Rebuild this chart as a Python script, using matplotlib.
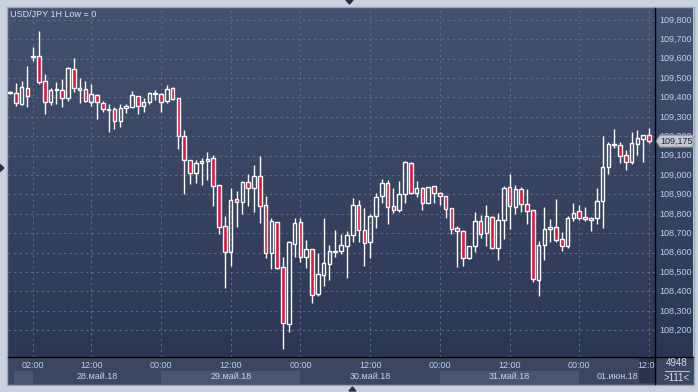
import matplotlib.pyplot as plt
import numpy as np
from matplotlib.patches import Rectangle, Polygon
from matplotlib.colors import LinearSegmentedColormap

plt.rcParams['font.family'] = ['Liberation Sans', 'DejaVu Sans']

# USD/JPY 1H свечи (111 баров)
opens = [109.425, 109.422, 109.366, 109.447, 109.608, 109.614, 109.484, 109.375, 109.437, 109.437,
         109.399, 109.545, 109.440, 109.442, 109.378, 109.411, 109.370, 109.334, 109.339, 109.277,
         109.344, 109.353, 109.406, 109.355, 109.378, 109.417, 109.418, 109.382, 109.447, 109.396,
         109.200, 109.076, 109.012, 109.061, 109.071, 109.087, 108.947, 108.738, 108.605, 108.875,
         108.863, 108.963, 108.932, 108.995, 108.844, 108.597, 108.757, 108.525, 108.231, 108.646,
         108.758, 108.579, 108.619, 108.389, 108.484, 108.540, 108.602, 108.607, 108.633, 108.690,
         108.844, 108.717, 108.654, 108.788, 108.891, 108.958, 108.839, 108.819, 108.904, 109.061,
         108.906, 108.932, 108.858, 108.942, 108.906, 108.891, 108.830, 108.726, 108.712, 108.571,
         108.633, 108.762, 108.700, 108.786, 108.626, 108.767, 108.937, 108.837, 108.927, 108.849,
         108.820, 108.461, 108.638, 108.724, 108.734, 108.669, 108.636, 108.777, 108.813, 108.782,
         108.772, 108.777, 108.865, 109.043, 109.154, 109.154, 109.102, 109.066, 109.162, 109.188,
         109.205]
highs = [109.432, 109.473, 109.485, 109.562, 109.659, 109.743, 109.521, 109.447, 109.481, 109.495,
         109.557, 109.605, 109.499, 109.485, 109.470, 109.418, 109.382, 109.365, 109.349, 109.365,
         109.365, 109.434, 109.408, 109.396, 109.427, 109.439, 109.422, 109.464, 109.456, 109.398,
         109.232, 109.078, 109.078, 109.087, 109.119, 109.102, 108.950, 108.791, 108.935, 108.920,
         108.971, 109.006, 109.052, 109.098, 108.892, 108.777, 108.760, 108.579, 108.662, 108.777,
         108.777, 108.665, 108.621, 108.597, 108.777, 108.640, 108.717, 108.695, 108.712, 108.880,
         108.872, 108.829, 108.799, 108.906, 108.978, 108.975, 108.935, 108.970, 109.073, 109.066,
         108.970, 108.940, 108.940, 108.944, 108.914, 108.893, 108.832, 108.738, 108.717, 108.635,
         108.811, 108.794, 108.846, 108.789, 108.806, 108.945, 109.006, 108.949, 108.937, 108.927,
         108.822, 108.660, 108.834, 108.774, 108.877, 108.707, 108.788, 108.855, 108.844, 108.837,
         108.782, 108.932, 109.202, 109.169, 109.238, 109.171, 109.129, 109.222, 109.232, 109.207,
         109.241]
lows = [109.418, 109.358, 109.361, 109.353, 109.590, 109.468, 109.313, 109.361, 109.365, 109.353,
        109.380, 109.427, 109.373, 109.375, 109.356, 109.291, 109.324, 109.224, 109.239, 109.249,
        109.322, 109.347, 109.313, 109.327, 109.365, 109.387, 109.327, 109.373, 109.387, 109.133,
        108.903, 108.956, 108.958, 108.951, 108.975, 108.842, 108.696, 108.420, 108.533, 108.734,
        108.798, 108.841, 108.811, 108.755, 108.574, 108.516, 108.516, 108.104, 108.193, 108.576,
        108.554, 108.523, 108.342, 108.378, 108.430, 108.459, 108.579, 108.593, 108.468, 108.654,
        108.654, 108.533, 108.571, 108.726, 108.855, 108.748, 108.806, 108.808, 108.855, 108.904,
        108.886, 108.820, 108.855, 108.858, 108.846, 108.780, 108.696, 108.528, 108.531, 108.566,
        108.605, 108.674, 108.636, 108.619, 108.562, 108.671, 108.722, 108.800, 108.811, 108.748,
        108.449, 108.378, 108.562, 108.657, 108.657, 108.610, 108.626, 108.763, 108.769, 108.765,
        108.713, 108.746, 108.729, 109.007, 109.141, 109.064, 109.026, 109.057, 109.104, 109.069,
        109.164]
closes = [109.425, 109.370, 109.453, 109.406, 109.612, 109.478, 109.375, 109.439, 109.444, 109.396,
          109.551, 109.447, 109.447, 109.382, 109.418, 109.375, 109.339, 109.339, 109.277, 109.344,
          109.355, 109.413, 109.355, 109.375, 109.422, 109.420, 109.375, 109.442, 109.391, 109.200,
          109.076, 109.009, 109.061, 109.071, 109.081, 108.942, 108.731, 108.605, 108.870, 108.860,
          108.964, 108.932, 108.995, 108.842, 108.597, 108.763, 108.523, 108.236, 108.654, 108.752,
          108.579, 108.619, 108.384, 108.489, 108.545, 108.607, 108.607, 108.638, 108.690, 108.844,
          108.715, 108.648, 108.788, 108.889, 108.961, 108.834, 108.819, 108.903, 109.066, 108.909,
          108.932, 108.855, 108.937, 108.906, 108.892, 108.824, 108.721, 108.710, 108.571, 108.633,
          108.762, 108.698, 108.788, 108.623, 108.767, 108.932, 108.842, 108.927, 108.849, 108.816,
          108.466, 108.638, 108.721, 108.731, 108.667, 108.636, 108.779, 108.806, 108.777, 108.772,
          108.775, 108.865, 109.043, 109.159, 109.160, 109.100, 109.069, 109.164, 109.190, 109.205,
          109.175]

time_labels = ['02:00', '12:00', '00:00', '12:00', '00:00', '12:00', '00:00', '12:00', '00:00', '12:00']
time_pos = [4, 14, 26, 38, 50, 62, 74, 86, 98, 110]
day_starts = [4, 26, 50, 74, 98]
day_labels = ['28.май.18', '29.май.18', '30.май.18', '31.май.18', '01.июн.18']
price_ticks = [108.2, 108.3, 108.4, 108.5, 108.6, 108.7, 108.8, 108.9,
               109.0, 109.1, 109.2, 109.3, 109.4, 109.5, 109.6, 109.7, 109.8]
last_price = 109.175
total_bars = 4948
visible_bars = 111
title = 'USD/JPY 1H Low = 0'

# размеры в пикселях
W, H = 698, 392
PL, PT, PR, PB = 8, 8, 655, 357      # область графика
SB = 384                              # низ полосы с датами
RR = 693                              # правый край шкалы цен
XMIN, XMAX = -0.33, 111.03
YMIN, YMAX = 108.062, 109.861

RED = '#e0143c'
GRID = '#5d6b89'
TXT_BLUE = '#b8cff0'


def frac(x0, y0, x1, y1):
    return [x0 / W, 1 - y1 / H, (x1 - x0) / W, (y1 - y0) / H]


fig = plt.figure(figsize=(W / 100, H / 100), dpi=100)
fig.patch.set_facecolor('#c9d1dd')

# фон с градиентом
bg = fig.add_axes([0, 0, 1, 1])
bg.set_xlim(0, W)
bg.set_ylim(H, 0)
bg.axis('off')
cmap = LinearSegmentedColormap.from_list('bg', ['#44526f', '#2b3653'])
bg.imshow(np.linspace(0, 1, 256).reshape(-1, 1), cmap=cmap, aspect='auto',
          extent=(PL, RR, PB, PT), interpolation='bilinear')
bg.add_patch(Rectangle((PL, PB), RR - PL, SB - PB, color='#3b4760'))
bg.add_patch(Rectangle((PL - 1, PT - 1), RR - PL + 2, SB - PT + 2, fill=False,
                       edgecolor='#9ca6b6', lw=1))

# основная область
ax = fig.add_axes(frac(PL, PT, PR, PB))
ax.patch.set_alpha(0)
ax.set_xlim(XMIN, XMAX)
ax.set_ylim(YMIN, YMAX)
for s in ax.spines.values():
    s.set_visible(False)
ax.set_xticks([])
ax.set_yticks([])

ax.hlines(price_ticks, XMIN, XMAX, colors=GRID, lw=0.8, linestyles=(0, (2, 3)), zorder=1)
ax.vlines(time_pos, YMIN, YMAX, colors=GRID, lw=0.8, linestyles=(0, (2, 3)), zorder=1)

bw = 0.62
for i, (o, h, l, c) in enumerate(zip(opens, highs, lows, closes)):
    top, bot = max(o, c), min(o, c)
    if top - bot < 0.006:
        mid = (top + bot) / 2
        top, bot = mid + 0.003, mid - 0.003
    ax.vlines(i, top, h, colors='white', lw=1, zorder=2)
    ax.vlines(i, l, bot, colors='white', lw=1, zorder=2)
    fc = RED if c < o else 'none'
    ax.add_patch(Rectangle((i - bw / 2, bot), bw, top - bot, facecolor=fc,
                           edgecolor='white', lw=1, zorder=3))

ax.text(2 / (PR - PL), 1 - 6.5 / (PB - PT), title, transform=ax.transAxes,
        fontsize=6.5, color='#d9e0ec', va='center', ha='left')

# положение метки последней цены в пикселях
y_last = PT + (YMAX - last_price) / (YMAX - YMIN) * (PB - PT)

# шкала цен справа
ytr = ax.get_yaxis_transform()
for p in price_ticks:
    t = ax.text(1 + 4 / (PR - PL), p, f'{p:.3f}'.replace('.', ','), transform=ytr,
                fontsize=6.5, color=TXT_BLUE, va='center', ha='left', clip_on=False)
    if abs(p - last_price) < 0.05:
        # подпись частично закрыта меткой цены, как в оригинале
        clip = Rectangle((PR / W, 1 - (y_last - 6) / H), (RR - PR) / W, (y_last - 6) / H,
                         transform=fig.transFigure)
        t.set_clip_path(clip)
        t.set_clip_on(True)

# полоса времени и дат
sx = fig.add_axes(frac(PL, PB, PR, SB))
sx.patch.set_alpha(0)
sx.set_xlim(XMIN, XMAX)
sx.set_ylim(0, 1)
sx.axis('off')
edges = [0.65] + day_starts + [XMAX]
for j in range(len(edges) - 1):
    if j % 2 == 0:
        sx.add_patch(Rectangle((edges[j], 0), edges[j + 1] - edges[j], 0.48,
                               color='#4a5670', lw=0))
sx.add_patch(Rectangle((108.3, 0.02), XMAX - 108.3, 0.94, color='#2b344a', lw=0))
for pos, lab in zip(time_pos, time_labels):
    sx.text(pos, 0.70, lab, fontsize=6.5, color=TXT_BLUE, ha='center', va='center',
            clip_on=True)
for j, lab in enumerate(day_labels):
    mid = (edges[j + 1] + edges[j + 2]) / 2
    sx.text(mid, 0.26, lab, fontsize=6.5, color='#c6d3e8', ha='center', va='center',
            clip_on=True)

# верхний слой: линии, метка цены, маркеры
top = fig.add_axes([0, 0, 1, 1])
top.patch.set_alpha(0)
top.set_xlim(0, W)
top.set_ylim(H, 0)
top.axis('off')
top.plot([PR, PR], [PT, SB], color='black', lw=1)
top.plot([PL, RR], [PB, PB], color='black', lw=1)
top.text(676.5, 363.5, str(total_bars), fontsize=7, color='#d3dae6', ha='center', va='center')
top.plot([665, 689], [370.5, 370.5], color='#b8c0cc', lw=0.8)
top.text(676.5, 378, f'>{visible_bars}<', fontsize=7, color='#d3dae6', ha='center', va='center')

top.add_patch(Polygon([(PR + 1, y_last), (PR + 5, y_last - 6), (RR, y_last - 6),
                       (RR, y_last + 6), (PR + 5, y_last + 6)],
                      closed=True, facecolor='#c3c7ce', edgecolor='#8e949e', lw=0.8))
top.text(PR + 5.5, y_last, f'{last_price:.3f}'.replace('.', ','), fontsize=6.5,
         color='#1c2440', ha='left', va='center')

top.add_patch(Polygon([(346, 0), (353, 0), (349.5, 4)], closed=True, color='#2a3242'))
top.add_patch(Polygon([(349, 391), (356, 391), (352.5, 387)], closed=True, color='#2a3242'))
top.add_patch(Polygon([(0, 164.5), (0, 171.5), (4, 168)], closed=True, color='#2a3242'))

fig.savefig('out.png', dpi=100, facecolor=fig.get_facecolor())
